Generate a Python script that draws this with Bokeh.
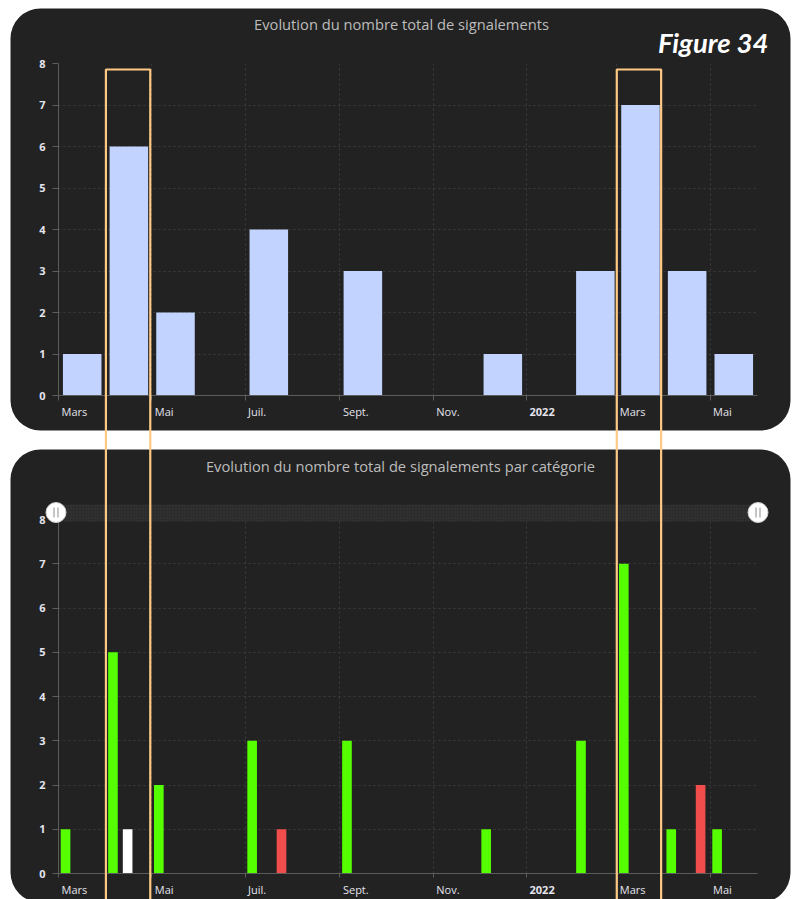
import pandas as pd
from bokeh.plotting import figure
from bokeh.models import (BoxAnnotation, Label, FixedTicker, ColumnDataSource,
                          Range1d, GridBox, CustomJSTickFormatter)
from bokeh.core.properties import value
from bokeh.embed import file_html
from bokeh.resources import INLINE

# ---------------- data ----------------
months = ["2021-03", "2021-04", "2021-05", "2021-06", "2021-07", "2021-08", "2021-09",
          "2021-10", "2021-11", "2021-12", "2022-01", "2022-02", "2022-03", "2022-04", "2022-05"]
total_signalements = [1, 6, 2, 0, 4, 0, 3, 0, 0, 1, 0, 3, 7, 3, 1]
cat_vert = [1, 5, 2, 0, 3, 0, 3, 0, 0, 1, 0, 3, 7, 1, 1]
cat_blanc = [0, 1, 0, 0, 0, 0, 0, 0, 0, 0, 0, 0, 0, 0, 0]
cat_rouge = [0, 0, 0, 0, 1, 0, 0, 0, 0, 0, 0, 0, 0, 2, 0]
highlight_months = ["2021-04", "2022-03"]
tick_dates = ["2021-03-01", "2021-05-01", "2021-07-01", "2021-09-01",
              "2021-11-01", "2022-01-01", "2022-03-01", "2022-05-01"]
tick_labels = ["Mars", "Mai", "Juil.", "Sept.", "Nov.", "2022", "Mars", "Mai"]
y_ticks = [0, 1, 2, 3, 4, 5, 6, 7, 8]
title_top = "Evolution du nombre total de signalements"
title_bottom = "Evolution du nombre total de signalements par catégorie"
figure_label = "Figure 34"

# ---------------- helpers ----------------
DAY = 86400000.0


def ms(ts):
    return pd.Timestamp(ts).value / 1e6


def month_span(m):
    start = pd.Timestamp(m + "-01")
    end = start + pd.offsets.MonthBegin(1)
    return ms(start), ms(end)


W = 792
H1 = 449
H2 = 450
HT = H1 + H2
DARK = "#222222"
AXIS = "#5c5c5c"
GRID = "#3c3c3c"
TICKTXT = "#e4e4ee"
TITLE = "#bcbcbc"
ORANGE = "#FFC983"
FL, FR = 58, 35          # frame borders left / right (px)

x_start = ms("2021-03-01")
x_end = ms("2022-06-01")
tick_ms = [ms(d) for d in tick_dates]
ppm = (W - FL - FR) / (x_end - x_start)     # px per ms in chart frames


def px2x(px):
    return x_start + (px - FL) / ppm


def no_align(p):
    try:
        p.frame_align = False
    except Exception:
        pass


def chart(h, top, bottom, tick_out):
    p = figure(width=W, height=h, x_axis_type="datetime", output_backend="svg",
               toolbar_location=None, x_range=Range1d(x_start, x_end), y_range=Range1d(0, 8),
               min_border_left=FL, min_border_right=FR, min_border_top=top,
               min_border_bottom=bottom)
    p.border_fill_color = None
    p.background_fill_color = None
    p.outline_line_color = None
    ax = p.xaxis[0]
    ax.ticker = FixedTicker(ticks=tick_ms)
    ax.formatter = CustomJSTickFormatter(code="return ''")
    ax.axis_line_color = AXIS
    ax.major_tick_line_color = AXIS
    ax.minor_tick_line_color = None
    ax.major_tick_in = 0
    ax.major_tick_out = tick_out
    ax.major_label_standoff = 0
    ay = p.yaxis[0]
    ay.ticker = FixedTicker(ticks=y_ticks)
    ay.axis_line_color = AXIS
    ay.major_tick_line_color = AXIS
    ay.minor_tick_line_color = None
    ay.major_tick_in = 0
    ay.major_tick_out = 6
    ay.major_label_standoff = 7
    ay.major_label_text_color = TICKTXT
    ay.major_label_text_font = "Open Sans"
    ay.major_label_text_font_size = "11px"
    ay.major_label_text_font_style = "bold"
    p.xgrid.ticker = FixedTicker(ticks=tick_ms)
    p.grid.grid_line_color = GRID
    p.grid.grid_line_dash = "2 3"
    return p


def full_canvas(xr):
    p = figure(width=W, height=HT, output_backend="svg", toolbar_location=None,
               x_range=xr, y_range=Range1d(HT, 0),
               x_axis_location=None, y_axis_location=None,
               min_border=0, min_border_left=0, min_border_right=0,
               min_border_top=0, min_border_bottom=0)
    p.grid.visible = False
    p.outline_line_color = None
    no_align(p)
    return p


# ---------------- background (panels, titles) ----------------
bg = full_canvas(Range1d(0, W))
bg.border_fill_color = "white"
bg.background_fill_color = "white"
for (t, b) in [(8, 430), (H1, HT + 3)]:
    bg.add_layout(BoxAnnotation(left=10, right=790, top=t, bottom=b, border_radius=30,
                                fill_color=DARK, fill_alpha=1.0, line_color=None))
bg.add_layout(Label(x=401, y=23, text=title_top, text_align="center",
                    text_baseline="middle", text_font="Open Sans", text_font_size="14.7px",
                    text_color=TITLE))
bg.add_layout(Label(x=400, y=465, text=title_bottom, text_align="center",
                    text_baseline="middle", text_font="Open Sans", text_font_size="14.7px",
                    text_color=TITLE))
bg.add_layout(Label(x=768, y=42, text=figure_label, text_align="right",
                    text_baseline="middle", text_font="Lato", text_font_style="bold italic",
                    text_font_size="27.5px", text_color="white"))

# ---------------- top chart ----------------
p1 = chart(H1, 63, 54, 5)
centers, widths = [], []
for m in months:
    s, e = month_span(m)
    centers.append((s + e) / 2)
    widths.append(25.2 * DAY)
p1.vbar(x="x", top="top", width="w", bottom=0,
        source=ColumnDataSource(dict(x=centers, top=total_signalements, w=widths)),
        fill_color="#C1D3FE", line_color=None)

# ---------------- bottom chart ----------------
p2 = chart(H2, 70, 26, 4)
series = [(cat_vert, "#55FF00"), (cat_blanc, "#FFFFFF"), (cat_rouge, "#F24D4D")]
for k, (vals, col) in enumerate(series):
    xs = []
    for m in months:
        s, _ = month_span(m)
        xs.append(s + (4.6 + 9.6 * k) * DAY)
    p2.vbar(x="x", top="top", width=6.3 * DAY, bottom=0,
            source=ColumnDataSource(dict(x=xs, top=vals)), fill_color=col, line_color=None)

# ---------------- overlay (slider, tick labels, highlight frames) ----------------
ov = full_canvas(Range1d(px2x(0), px2x(W)))
ov.border_fill_color = None
ov.background_fill_color = None

# range slider band + handles
ov.quad(left=[px2x(60)], right=[px2x(752)], top=[504], bottom=[521],
        fill_color="#2b2b2b", line_color=None, hatch_pattern=".", hatch_color="#393939",
        hatch_scale=3)
hx = [px2x(55.5), px2x(757.5)]
ov.scatter(x=hx, y=[512] * 2, size=20, marker="circle", fill_color="white",
           line_color="#d0d0d0", line_width=1)
for dx in (-2, 2):
    ov.segment(x0=[px2x(55.5 + dx), px2x(757.5 + dx)], x1=[px2x(55.5 + dx), px2x(757.5 + dx)],
               y0=[507] * 2, y1=[517] * 2, line_color="#a8a8a8", line_width=1.3)

# x tick labels (left aligned next to each tick), year label in bold
styles = ["bold" if lab.isdigit() else "normal" for lab in tick_labels]
for ycen in (411, 889):
    ov.text(x="x", y="y", text="t", text_font_style="s", x_offset=3,
            source=ColumnDataSource(dict(x=tick_ms, y=[ycen] * len(tick_ms),
                                         t=tick_labels, s=styles)),
            text_align="left", text_baseline="middle", text_font=value("Open Sans"),
            text_font_size=value("11px"), text_color=TICKTXT)

# highlight frames
hl = [month_span(m)[0] for m in highlight_months]
ov.quad(left=hl, right=[a + 29 * DAY for a in hl], top=[69] * len(hl),
        bottom=[HT + 30] * len(hl), fill_color=None, line_color=ORANGE, line_width=2.2)

layout = GridBox(children=[(bg, 0, 0, 2, 1), (p1, 0, 0), (p2, 1, 0), (ov, 0, 0, 2, 1)],
                 spacing=0)
open("out.html", "w").write(file_html(layout, INLINE))
